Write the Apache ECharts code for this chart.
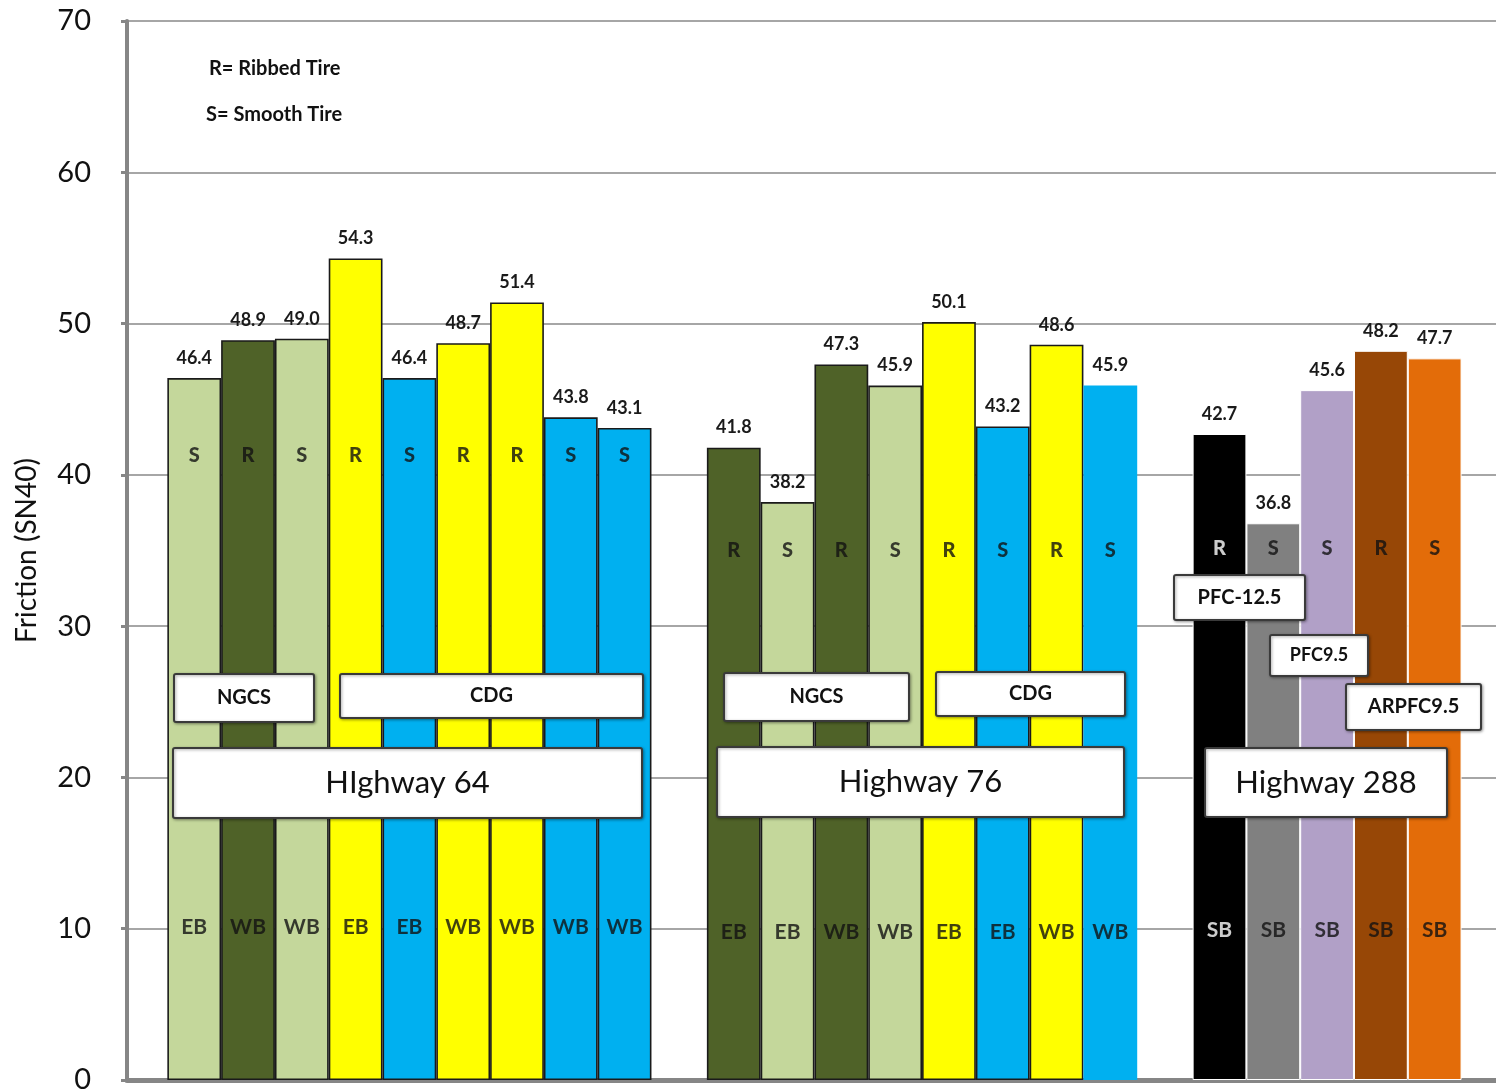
<!DOCTYPE html>
<html><head><meta charset="utf-8">
<script src="https://cdn.jsdelivr.net/npm/echarts@6/dist/echarts.min.js"></script>
<style>html,body{margin:0;padding:0;background:#fff}#c{width:1496px;height:1091px}</style>
</head><body><div id="c"></div>
<script>
// ---- Data ----
var hw64Values = [46.4, 48.9, 49.0, 54.3, 46.4, 48.7, 51.4, 43.8, 43.1];
var hw64Tire   = ['S','R','S','R','S','R','R','S','S'];
var hw64Dir    = ['EB','WB','WB','EB','EB','WB','WB','WB','WB'];

var hw76Values = [41.8, 38.2, 47.3, 45.9, 50.1, 43.2, 48.6, 45.9];
var hw76Tire   = ['R','S','R','S','R','S','R','S'];
var hw76Dir    = ['EB','EB','WB','WB','EB','EB','WB','WB'];

var hw288Values = [42.7, 36.8, 45.6, 48.2, 47.7];
var hw288Tire   = ['R','S','S','R','S'];
var hw288Dir    = ['SB','SB','SB','SB','SB'];

var yTicks = [0, 10, 20, 30, 40, 50, 60, 70];

// ---- Styles ----
var C = {lg:'#C4D79B', dg:'#4F6228', ye:'#FFFF00', bl:'#00B0F0', bk:'#000000', gr:'#808080', lv:'#B1A0C7', br:'#974706', or:'#E36C09'};
var hw64Colors  = [C.lg, C.dg, C.lg, C.ye, C.bl, C.ye, C.ye, C.bl, C.bl];
var hw76Colors  = [C.dg, C.lg, C.dg, C.lg, C.ye, C.bl, C.ye, C.bl];
var hw288Colors = [C.bk, C.gr, C.lv, C.br, C.or];

var FONT = 'Lato, "Open Sans", sans-serif';
var xMin = -1.25, xMax = 24.2;
var gridLeft = 127, gridRight = 0, W = 1496;
var unitPx = (W - gridLeft - gridRight) / (xMax - xMin);
var groupGap = 1.03;

var groups = [
  {values: hw64Values, tire: hw64Tire, dir: hw64Dir, colors: hw64Colors, tireY: 41.3, dirY: 10.1, border: 'dark'},
  {values: hw76Values, tire: hw76Tire, dir: hw76Dir, colors: hw76Colors, tireY: 35.0, dirY: 9.8, border: 'dark'},
  {values: hw288Values, tire: hw288Tire, dir: hw288Dir, colors: hw288Colors, tireY: 35.1, dirY: 9.9, border: 'white'}
];

var barData = [], tireData = [], dirData = [];
var pos = 0;
groups.forEach(function (g, gi) {
  if (gi > 0) pos += groupGap;
  g.values.forEach(function (v, i) {
    var x = pos + i;
    var col = g.colors[i];
    var noBorder = (gi === 1 && i === g.values.length - 1);
    barData.push({
      value: [x, v],
      itemStyle: {
        color: col,
        borderColor: g.border === 'white' ? '#ffffff' : '#1a1a1a',
        borderWidth: noBorder ? 0 : (g.border === 'white' ? 1 : 1.6)
      }
    });
    var txtCol = col === C.bk ? '#ffffff' : '#111111';
    tireData.push({value: [x, g.tireY], name: g.tire[i], label: {color: txtCol}});
    dirData.push({value: [x, g.dirY], name: g.dir[i], label: {color: txtCol}});
  });
  pos += g.values.length;
});

function box(x, y, w, h, text, size, weight) {
  return {
    type: 'rect', z: 100,
    shape: {x: x, y: y, width: w, height: h, r: 2},
    style: {fill: '#ffffff', stroke: '#3a3a3a', lineWidth: 2,
            shadowBlur: 3, shadowColor: 'rgba(0,0,0,0.35)', shadowOffsetX: 1, shadowOffsetY: 1},
    textContent: {style: {text: text, fill: '#111', font: weight + ' ' + size + 'px ' + FONT}, z: 101},
    textConfig: {position: 'inside'}
  };
}

var chart = echarts.init(document.getElementById('c'), null, {renderer: 'canvas'});
chart.setOption({
  animation: false,
  backgroundColor: '#ffffff',
  grid: {left: gridLeft, right: gridRight, top: 21, bottom: 11, containLabel: false, outerBoundsMode: 'none'},
  xAxis: {
    type: 'value', min: xMin, max: xMax,
    axisLine: {show: true, onZero: false, lineStyle: {color: '#868686', width: 5}},
    axisTick: {show: false}, axisLabel: {show: false}, splitLine: {show: false}
  },
  yAxis: {
    type: 'value', min: yTicks[0], max: yTicks[yTicks.length - 1], interval: yTicks[1] - yTicks[0],
    name: 'Friction (SN40)', nameLocation: 'middle', nameGap: 86, nameRotate: 90,
    nameTextStyle: {fontFamily: FONT, fontSize: 28, color: '#111'},
    axisLine: {show: true, onZero: false, lineStyle: {color: '#868686', width: 4}},
    axisTick: {show: true, length: 6, lineStyle: {color: '#868686', width: 3}},
    axisLabel: {fontFamily: FONT, fontSize: 29, color: '#111', margin: 36},
    splitLine: {show: true, lineStyle: {color: '#A6A6A6', width: 2}}
  },
  series: [
    {
      type: 'bar', data: barData, barWidth: unitPx, z: 2,
      label: {show: true, position: 'top', distance: 11,
              formatter: function (p) { return p.value[1].toFixed(1); },
              fontFamily: FONT, fontWeight: 'bold', fontSize: 18, color: '#1a1a1a'}
    },
    {
      type: 'scatter', data: tireData, symbolSize: 1, itemStyle: {color: 'transparent'}, z: 5,
      label: {show: true, position: 'inside', formatter: '{b}', fontFamily: FONT, fontWeight: 900, fontSize: 20}
    },
    {
      type: 'scatter', data: dirData, symbolSize: 1, itemStyle: {color: 'transparent'}, z: 5,
      label: {show: true, position: 'inside', formatter: '{b}', fontFamily: FONT, fontWeight: 'bold', fontSize: 21}
    }
  ],
  graphic: [
    {type: 'text', z: 100, left: 209, top: 59, style: {text: 'R= Ribbed Tire', font: 'bold 20px ' + FONT, fill: '#111'}},
    {type: 'text', z: 100, left: 206, top: 105, style: {text: 'S= Smooth Tire', font: 'bold 20px ' + FONT, fill: '#111'}},
    box(174, 674, 140, 48, 'NGCS', 20, 'bold'),
    box(340, 674, 303, 44, 'CDG', 20, 'bold'),
    box(173, 748, 469, 70, 'HIghway 64', 31, 'normal'),
    box(724, 673, 185, 48, 'NGCS', 20, 'bold'),
    box(936, 672, 189, 44, 'CDG', 20, 'bold'),
    box(717, 747, 407, 70, 'Highway 76', 31, 'normal'),
    box(1174, 575, 131, 45, 'PFC-12.5', 20, 'bold'),
    box(1270, 635, 98, 41, 'PFC9.5', 18, 'bold'),
    box(1346, 684, 135, 46, 'ARPFC9.5', 20, 'bold'),
    box(1205, 748, 242, 69, 'Highway 288', 31, 'normal')
  ]
});
</script></body></html>
